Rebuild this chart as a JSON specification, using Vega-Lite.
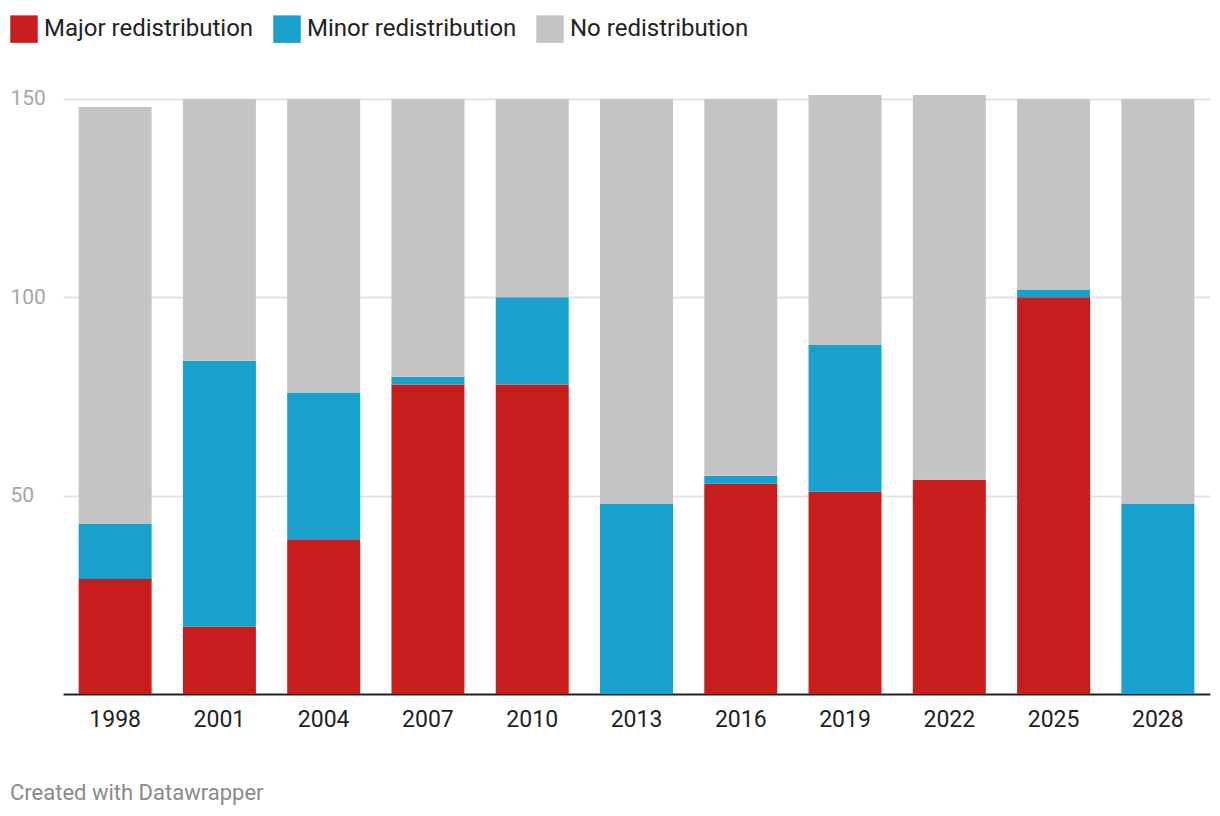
{
  "$schema": "https://vega.github.io/schema/vega-lite/v6.json",
  "width": 1147,
  "height": 599,
  "autosize": {"type": "none"},
  "padding": {"left": 63, "top": 95, "right": 10, "bottom": 122},
  "background": "white",
  "title": {
    "text": "Created with Datawrapper",
    "orient": "bottom",
    "anchor": "start",
    "frame": "group",
    "dx": -53,
    "offset": 52,
    "font": "Roboto",
    "fontSize": 22,
    "fontWeight": "normal",
    "color": "#8a8a8a"
  },
  "data": {
    "values": [
      {"year": "1998", "category": "Major redistribution", "k": 1, "value": 29},
      {"year": "1998", "category": "Minor redistribution", "k": 2, "value": 14},
      {"year": "1998", "category": "No redistribution", "k": 3, "value": 105},
      {"year": "2001", "category": "Major redistribution", "k": 1, "value": 17},
      {"year": "2001", "category": "Minor redistribution", "k": 2, "value": 67},
      {"year": "2001", "category": "No redistribution", "k": 3, "value": 66},
      {"year": "2004", "category": "Major redistribution", "k": 1, "value": 39},
      {"year": "2004", "category": "Minor redistribution", "k": 2, "value": 37},
      {"year": "2004", "category": "No redistribution", "k": 3, "value": 74},
      {"year": "2007", "category": "Major redistribution", "k": 1, "value": 78},
      {"year": "2007", "category": "Minor redistribution", "k": 2, "value": 2},
      {"year": "2007", "category": "No redistribution", "k": 3, "value": 70},
      {"year": "2010", "category": "Major redistribution", "k": 1, "value": 78},
      {"year": "2010", "category": "Minor redistribution", "k": 2, "value": 22},
      {"year": "2010", "category": "No redistribution", "k": 3, "value": 50},
      {"year": "2013", "category": "Major redistribution", "k": 1, "value": 0},
      {"year": "2013", "category": "Minor redistribution", "k": 2, "value": 48},
      {"year": "2013", "category": "No redistribution", "k": 3, "value": 102},
      {"year": "2016", "category": "Major redistribution", "k": 1, "value": 53},
      {"year": "2016", "category": "Minor redistribution", "k": 2, "value": 2},
      {"year": "2016", "category": "No redistribution", "k": 3, "value": 95},
      {"year": "2019", "category": "Major redistribution", "k": 1, "value": 51},
      {"year": "2019", "category": "Minor redistribution", "k": 2, "value": 37},
      {"year": "2019", "category": "No redistribution", "k": 3, "value": 63},
      {"year": "2022", "category": "Major redistribution", "k": 1, "value": 54},
      {"year": "2022", "category": "Minor redistribution", "k": 2, "value": 0},
      {"year": "2022", "category": "No redistribution", "k": 3, "value": 97},
      {"year": "2025", "category": "Major redistribution", "k": 1, "value": 100},
      {"year": "2025", "category": "Minor redistribution", "k": 2, "value": 2},
      {"year": "2025", "category": "No redistribution", "k": 3, "value": 48},
      {"year": "2028", "category": "Major redistribution", "k": 1, "value": 0},
      {"year": "2028", "category": "Minor redistribution", "k": 2, "value": 48},
      {"year": "2028", "category": "No redistribution", "k": 3, "value": 102}
    ]
  },
  "mark": {"type": "bar"},
  "encoding": {
    "x": {
      "field": "year",
      "type": "nominal",
      "sort": null,
      "scale": {"paddingInner": 0.3, "paddingOuter": 0.15},
      "axis": {
        "title": null,
        "labelAngle": 0,
        "labelFont": "Roboto",
        "labelFontSize": 23,
        "labelColor": "#222222",
        "labelPadding": 14,
        "ticks": false,
        "domainColor": "#222222",
        "domainWidth": 2,
        "grid": false
      }
    },
    "y": {
      "field": "value",
      "type": "quantitative",
      "stack": "zero",
      "scale": {"domain": [0, 151], "nice": false},
      "axis": {
        "title": null,
        "values": [50, 100, 150],
        "labelFont": "Roboto",
        "labelFontSize": 21,
        "labelColor": "#a6a6a6",
        "labelAlign": "left",
        "labelPadding": 53,
        "ticks": false,
        "domain": false,
        "grid": true,
        "gridColor": "#e3e3e3",
        "gridWidth": 2
      }
    },
    "color": {
      "field": "category",
      "type": "nominal",
      "scale": {
        "domain": ["Major redistribution", "Minor redistribution", "No redistribution"],
        "range": ["#c71e1d", "#18a1cd", "#c4c4c4"]
      },
      "legend": {
        "title": null,
        "orient": "none",
        "direction": "horizontal",
        "legendX": -53,
        "legendY": -80,
        "padding": 0,
        "symbolType": "square",
        "symbolSize": 756,
        "symbolStrokeWidth": 0,
        "symbolOpacity": 1,
        "labelFont": "Roboto",
        "labelFontSize": 24,
        "labelColor": "#222222",
        "labelLimit": 0,
        "labelOffset": 6,
        "columnPadding": 19
      }
    },
    "order": {"field": "k", "type": "quantitative"}
  },
  "config": {
    "view": {"stroke": null}
  }
}
